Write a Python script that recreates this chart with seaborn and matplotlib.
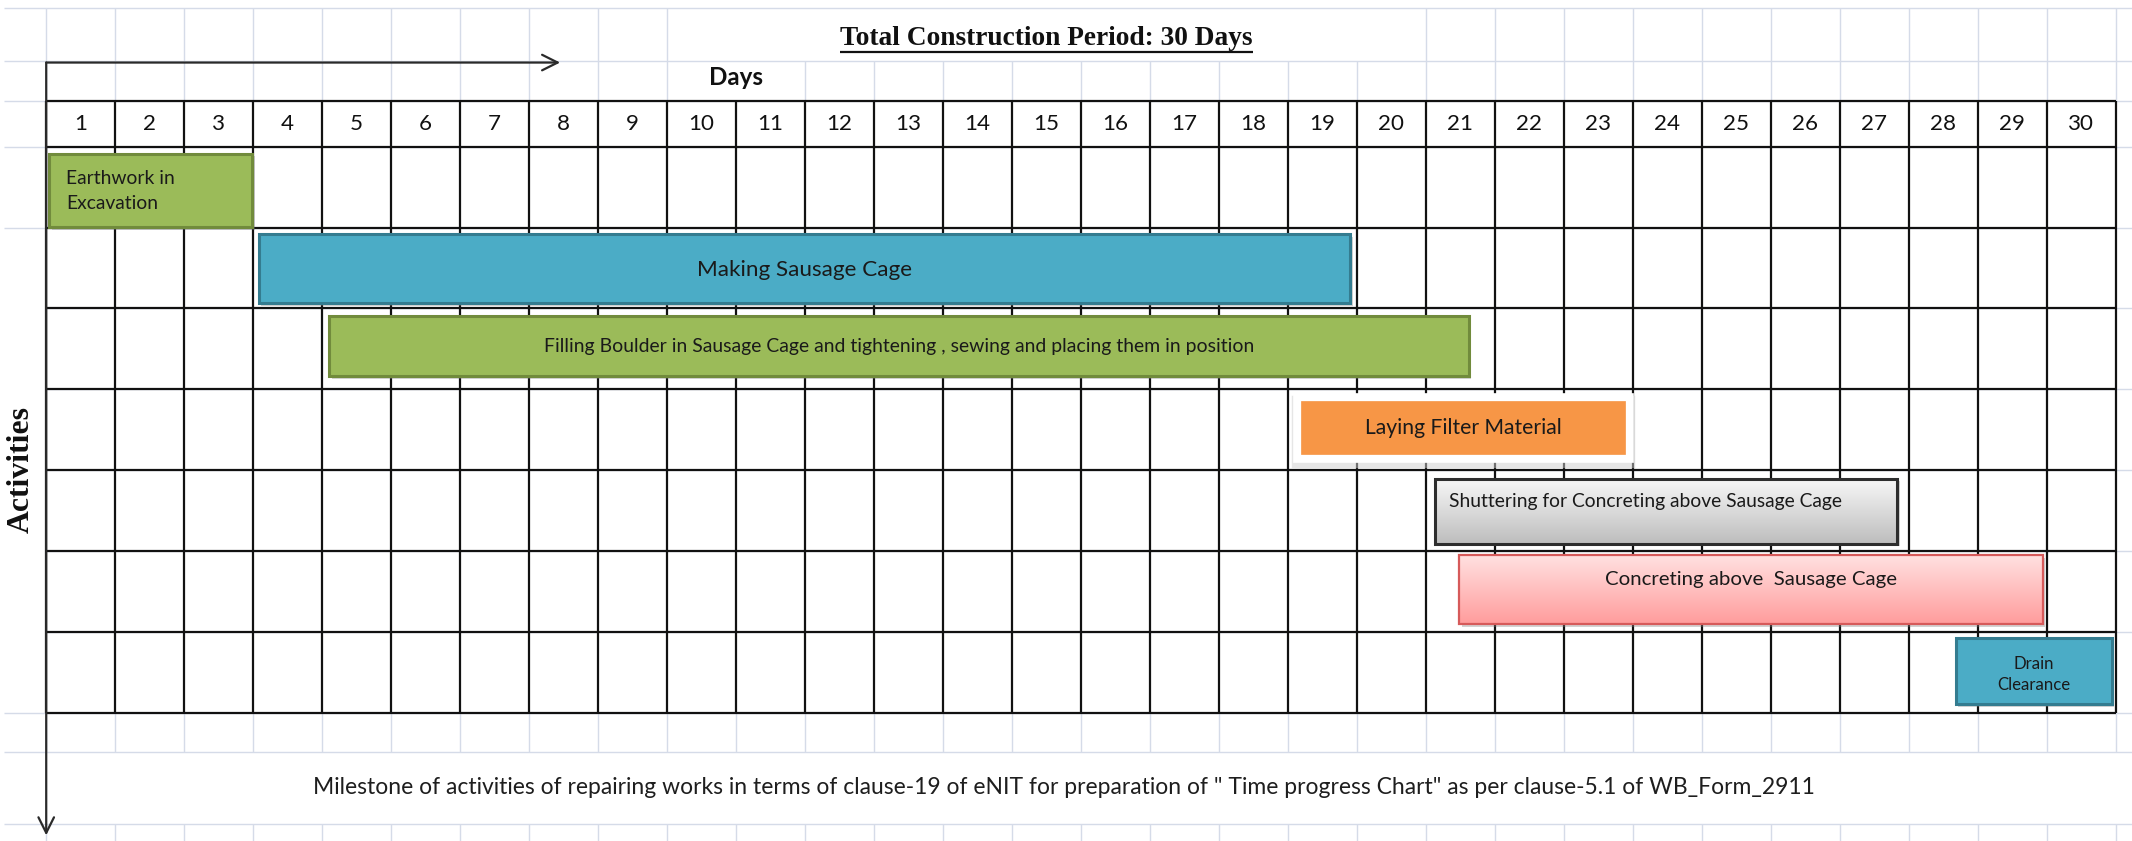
import numpy as np
import pandas as pd
import matplotlib
matplotlib.use("Agg")
import matplotlib.pyplot as plt
import seaborn as sns
from matplotlib import font_manager as fm
from matplotlib import patheffects as pe
from matplotlib.patches import Rectangle
from matplotlib.colors import LinearSegmentedColormap

# ---------------- data ----------------
activities = [
    "Earthwork in\nExcavation",
    "Making Sausage Cage",
    "Filling Boulder in Sausage Cage and tightening , sewing and placing them in position",
    "Laying Filter Material",
    "Shuttering for Concreting above Sausage Cage",
    "Concreting above  Sausage Cage",
    "Drain\nClearance",
]
start_day = [0.04, 3.08, 4.10, 18.19, 20.13, 20.48, 27.68]
end_day = [2.98, 18.90, 20.62, 22.89, 26.83, 28.94, 29.94]
day_labels = [str(d) for d in range(1, 31)]
title_text = "Total Construction Period: 30 Days"
x_title = "Days"
y_title = "Activities"
footnote = ('Milestone of activities of repairing works in terms of clause-19 of eNIT '
            'for preparation of " Time progress Chart" as per clause-5.1 of WB_Form_2911')

# ---------------- style ----------------
sns.set_theme(style="white")
names = {f.name for f in fm.fontManager.ttflist}
SANS = "Liberation Sans Narrow" if "Liberation Sans Narrow" in names else "Lato"
SERIF = "Liberation Serif"
plt.rcParams["font.family"] = [SANS, "DejaVu Sans"]

GREEN, GREEN_E = "#9BBB59", "#718B3C"
BLUE, BLUE_E = "#4BACC6", "#347C90"
ORANGE = "#F79646"
bar_styles = [
    dict(face=GREEN, edge=GREEN_E, lw=2.2, grad=None),
    dict(face=BLUE, edge=BLUE_E, lw=2.2, grad=None),
    dict(face=GREEN, edge=GREEN_E, lw=2.2, grad=None),
    dict(face=ORANGE, edge=ORANGE, lw=0.5, grad=None, glow=True),
    dict(face="none", edge="#2E2E2E", lw=2.2, grad=("#F7F7F7", "#BDBDBD")),
    dict(face="none", edge="#D65A5A", lw=1.6, grad=("#FFE2E2", "#FF9C9C")),
    dict(face=BLUE, edge=BLUE_E, lw=2.2, grad=None),
]
# vertical extent of each bar relative to its row centre (row height = 1)
bar_top = [-0.416, -0.423, -0.41, -0.354, -0.394, -0.452, -0.426]
bar_bot = [0.493, 0.435, 0.34, 0.30, 0.41, 0.406, 0.40]
# label placement: (mode, x offset from bar start or None=centre, y offset from row centre)
label_pos = [("left", 0.25, 0.05), ("center", None, 0.03), ("center", None, -0.03),
             ("center", None, -0.02), ("left", 0.21, -0.11), ("center", None, -0.15),
             ("center", None, 0.03)]
label_width_px = [109, 215, 708, 196, 393, 292, 73]
label_linespacing = [1.6, 1, 1, 1, 1, 1, 1.45]

# figure frame in data units (x: days from grid left, y: rows, row i centred on i)
XL, XR = -0.670, 30.237
YT, YB = -2.317, 8.090
GRID_TOP, HEAD_BOT, GRID_BOT = -1.072, -0.5, 6.5
LIGHT_Y = [-2.216, -1.560]
BELOW_Y = [6.988, 7.880]
LEFT_EDGE = -0.611
LIGHT = "#D5DBE8"

fig = plt.figure(figsize=(21.32, 8.41), dpi=100)
ax = fig.add_axes([0, 0, 1, 1])

df = pd.DataFrame({"activity": activities,
                   "duration": np.array(end_day) - np.array(start_day),
                   "start": start_day})
sns.barplot(data=df, x="duration", y="activity", orient="h", order=activities,
            left=df["start"].to_numpy(), errorbar=None, width=0.8, ax=ax,
            zorder=3, color=GREEN)

n_rows = len(activities)
n_days = len(day_labels)

# ---------------- Excel-like light gridlines ----------------
row_lines = np.arange(-0.5, n_rows + 0.5, 1.0)
ax.hlines(LIGHT_Y + [GRID_TOP] + list(row_lines) + BELOW_Y, 0, XR, colors=LIGHT, lw=1.0, zorder=0.5)
ax.hlines(LIGHT_Y + [GRID_TOP, HEAD_BOT, 0.5, GRID_BOT] + BELOW_Y, LEFT_EDGE, 0,
          colors=LIGHT, lw=1.0, zorder=0.5)
cols = np.arange(0, n_days + 1)
top_cols = [c for c in cols if not (10 <= c <= 19)]
ax.vlines(top_cols, LIGHT_Y[0], LIGHT_Y[1], colors=LIGHT, lw=1.0, zorder=0.5)
ax.vlines([c for c in cols if c != 10], LIGHT_Y[1], GRID_TOP, colors=LIGHT, lw=1.0, zorder=0.5)
ax.vlines(cols, GRID_BOT, BELOW_Y[0], colors=LIGHT, lw=1.0, zorder=0.5)
ax.vlines(cols, BELOW_Y[1], YB, colors=LIGHT, lw=1.0, zorder=0.5)

# ---------------- black table grid ----------------
ax.vlines(cols, GRID_TOP, GRID_BOT, colors="#111111", lw=1.6, zorder=2)
ax.hlines([GRID_TOP, HEAD_BOT] + list(row_lines[1:]), 0, n_days, colors="#111111", lw=1.6, zorder=2)

# ---------------- bars ----------------
patches = list(ax.patches)[:n_rows]
shadow = [pe.SimplePatchShadow(offset=(2, -2), shadow_rgbFace="#7F7F7F", alpha=0.35), pe.Normal()]
for i, (p, st) in enumerate(zip(patches, bar_styles)):
    p.set_y(i + bar_top[i])
    p.set_height(bar_bot[i] - bar_top[i])
    p.set_facecolor(st["face"])
    p.set_edgecolor(st["edge"])
    p.set_linewidth(st["lw"])
    p.set_zorder(3)
    if st["grad"] is not None:
        x0, y0, w, h = p.get_x(), p.get_y(), p.get_width(), p.get_height()
        under = Rectangle((x0, y0), w, h, facecolor="white", edgecolor="none", zorder=2.8)
        under.set_path_effects(shadow)
        ax.add_patch(under)
        cmap = LinearSegmentedColormap.from_list("g%d" % i, list(st["grad"]))
        grad = np.linspace(0, 1, 256).reshape(-1, 1)
        im = ax.imshow(grad, cmap=cmap, aspect="auto", origin="upper",
                       extent=(x0, x0 + w, y0 + h, y0), zorder=2.9, interpolation="bilinear")
        im.set_clip_path(p)
    elif st.get("glow"):
        p.set_path_effects([pe.Stroke(linewidth=14, foreground="#CFCFCF", alpha=0.5, offset=(0, -3)),
                            pe.Stroke(linewidth=12, foreground="white"), pe.Normal()])
    else:
        p.set_path_effects(shadow)

ax.set_xlim(XL, XR)
ax.set_ylim(YB, YT)
ax.axis("off")

renderer = fig.canvas.get_renderer()


def fit_width(t, target, use_height=False):
    for _ in range(2):
        bb = t.get_window_extent(renderer)
        cur = bb.height if use_height else bb.width
        t.set_fontsize(t.get_fontsize() * target / cur)


# bar labels
for i, (p, lab) in enumerate(zip(patches, activities)):
    mode, xo, yo = label_pos[i]
    if mode == "left":
        x, ha = p.get_x() + xo, "left"
    else:
        x, ha = p.get_x() + p.get_width() / 2, "center"
    t = ax.text(x, i + yo, lab, ha=ha, va="center", fontsize=14, color="#1A1A1A",
                linespacing=label_linespacing[i], zorder=6, multialignment=ha)
    fit_width(t, label_width_px[i])

# day numbers in header
head_y = (GRID_TOP + HEAD_BOT) / 2
day_texts = [ax.text(k + 0.5, head_y, s, ha="center", va="center", fontsize=18,
                     color="#111111", zorder=6) for k, s in enumerate(day_labels)]
fit_width(day_texts[11], 26)
for t in day_texts:
    t.set_fontsize(day_texts[11].get_fontsize())

# "Days" label
t_days = ax.text(10.0, -1.358, x_title, ha="center", va="center",
                 fontsize=18, fontweight="bold", color="#111111", zorder=6)
fit_width(t_days, 54)

# title (bold serif, underlined)
t_title = ax.text(14.5, -1.846, title_text, ha="center", va="center", fontsize=20,
                  fontweight="bold", family=[SERIF, "DejaVu Serif"], color="#111111", zorder=6)
fit_width(t_title, 411)
bb = t_title.get_window_extent(renderer)
inv = ax.transData.inverted()
(ux0, _), (ux1, _) = inv.transform([[bb.x0, bb.y0], [bb.x1, bb.y0]])
ax.plot([ux0, ux1], [-1.672, -1.672], color="#111111", lw=1.6, zorder=6,
        solid_capstyle="butt")

# Activities label
t_act = ax.text(-0.36, 3.49, y_title, ha="center", va="center", rotation=90, fontsize=18,
                fontweight="bold", family=[SERIF, "DejaVu Serif"], color="#111111", zorder=6)
fit_width(t_act, 127, use_height=True)

# footnote
t_foot = ax.text(14.76, 7.425, footnote, ha="center", va="center", fontsize=16,
                 color="#1E1E1E", zorder=6)
fit_width(t_foot, 1500)

# arrows
ax.annotate("", xy=(7.45, -1.543), xytext=(0, -1.543),
            arrowprops=dict(arrowstyle="->", color="#2A2A2A", lw=1.6,
                            mutation_scale=28, shrinkA=0, shrinkB=0), zorder=7)
ax.annotate("", xy=(0, 8.02), xytext=(0, -1.543),
            arrowprops=dict(arrowstyle="->", color="#2A2A2A", lw=1.6,
                            mutation_scale=28, shrinkA=0, shrinkB=0), zorder=7)

fig.savefig("out.png", dpi=100, facecolor="white")
